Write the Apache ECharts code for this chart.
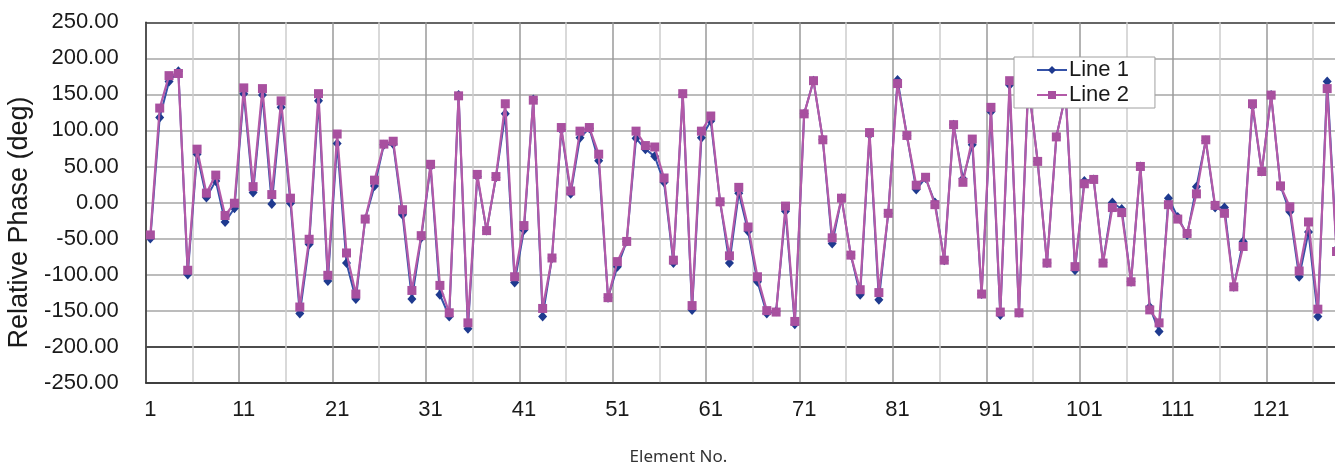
<!DOCTYPE html>
<html>
<head>
<meta charset="utf-8">
<script src="https://cdn.jsdelivr.net/npm/echarts@6/dist/echarts.min.js"></script>
<style>
html,body{margin:0;padding:0;background:#fff;}
#chart{width:1335px;height:465px;}
</style>
</head>
<body>
<div id="chart"></div>
<script>
const elementCount = 128;
const categories = [];
for (let i = 1; i <= elementCount; i++) categories.push(String(i));

const line1 = [-50,118,168,182,-100,67,7,30,-27,-8,151,14,149,-2,132,-1,-154,-58,141,-109,
82,-84,-134,-23,23,80,81,-17,-134,-49,50,-128,-158,149,-175,36,-39,35,123,-111,
-38,143,-158,-77,101,12,90,103,58,-132,-89,-54,89,74,64,28,-84,150,-149,90,
113,1,-84,13,-40,-110,-154,-151,-12,-169,123,169,87,-57,6,-73,-128,94,-135,-15,
170,93,18,34,0,-80,108,33,80,-127,126,-156,163,-153,165,57,-84,91,150,-94,
30,32,-83,0,-9,-110,50,-145,-179,6,-20,-45,22,86,-7,-7,-117,-54,134,43,
149,23,-13,-103,-41,-158,168,-65];

const line2 = [-45,131,176,179,-94,74,13,38,-18,-1,159,22,158,11,141,6,-145,-51,151,-101,
95,-70,-127,-23,31,81,85,-10,-122,-46,53,-115,-153,148,-167,39,-39,36,137,-103,
-32,142,-147,-77,104,16,99,104,67,-132,-82,-54,99,79,77,34,-80,151,-143,99,
120,1,-74,21,-34,-103,-150,-152,-5,-165,123,169,87,-49,6,-73,-121,97,-125,-15,
165,93,24,35,-3,-80,108,28,88,-127,132,-152,169,-153,165,57,-84,91,150,-89,
26,32,-84,-7,-14,-110,50,-149,-167,-3,-23,-43,12,87,-4,-15,-117,-61,137,43,
149,23,-6,-95,-27,-148,158,-68];

const seriesNames = ['Line 1', 'Line 2'];
const yMin = -250, yMax = 250, yStep = 50;

const FONT = "'Liberation Sans', Arial, sans-serif";
const chart = echarts.init(document.getElementById('chart'), null, {renderer: 'canvas'});

const hColors = [];
for (let v = yMin; v <= yMax; v += yStep) {
  if (v === yMin || v === yMax) hColors.push('#333333');
  else if (v === -200) hColors.push('#111111');
  else hColors.push('#a6a6a6');
}

chart.setOption({
  animation: false,
  backgroundColor: '#ffffff',
  grid: {left: 145.7, top: 22.3, height: 360.4, width: 1195.5, containLabel: false, outerBoundsMode: 'none'},
  legend: {
    orient: 'vertical',
    left: 1014, top: 57,
    padding: [2, 26, 2, 22],
    itemGap: 3,
    itemWidth: 30, itemHeight: 10,
    backgroundColor: '#ffffff',
    borderColor: '#a0a0a0', borderWidth: 1,
    textStyle: {fontFamily: FONT, fontSize: 22, color: '#1a1a1a', padding: [0,0,0,-3]},
    data: seriesNames
  },
  xAxis: {
    type: 'category',
    data: categories,
    boundaryGap: true,
    name: 'Element No.',
    nameLocation: 'middle',
    nameGap: 66,
    nameTextStyle: {fontFamily: "'Noto Sans', sans-serif", fontSize: 17, color: '#333', padding: [0, 130, 0, 0]},
    axisLine: {show: true, onZero: false, lineStyle: {color: '#333', width: 1.5}},
    axisTick: {show: false},
    axisLabel: {interval: 9, fontFamily: FONT, fontSize: 22, color: '#1a1a1a', margin: 16},
    splitLine: {show: true, interval: 4, lineStyle: {color: ['#9a9a9a', '#cccccc'], width: 1.5}}
  },
  yAxis: {
    type: 'value',
    min: yMin, max: yMax, interval: yStep,
    name: 'Relative Phase (deg)',
    nameLocation: 'middle',
    nameGap: 106,
    nameRotate: 90,
    nameTextStyle: {fontFamily: FONT, fontSize: 27, color: '#1a1a1a', padding: [0, 40, 0, 0]},
    axisLine: {show: true, lineStyle: {color: '#333', width: 1.5}},
    axisTick: {show: false},
    axisLabel: {fontFamily: FONT, fontSize: 22, color: '#1a1a1a', margin: 27,
      formatter: v => v.toFixed(2)},
    splitLine: {show: true, showMinLine: true, showMaxLine: true, lineStyle: {color: hColors, width: 1.5}}
  },
  series: [
    {
      name: seriesNames[0], type: 'line', data: line1,
      symbol: 'diamond', symbolSize: [9, 10], showAllSymbol: true,
      itemStyle: {color: '#1f3a8f'},
      lineStyle: {color: '#3552a8', width: 2},
      z: 2
    },
    {
      name: seriesNames[1], type: 'line', data: line2,
      symbol: 'rect', symbolSize: 9, showAllSymbol: true,
      itemStyle: {color: '#a8509f'},
      lineStyle: {color: '#b35aa8', width: 2.2},
      z: 3
    }
  ]
});
</script>
</body>
</html>
